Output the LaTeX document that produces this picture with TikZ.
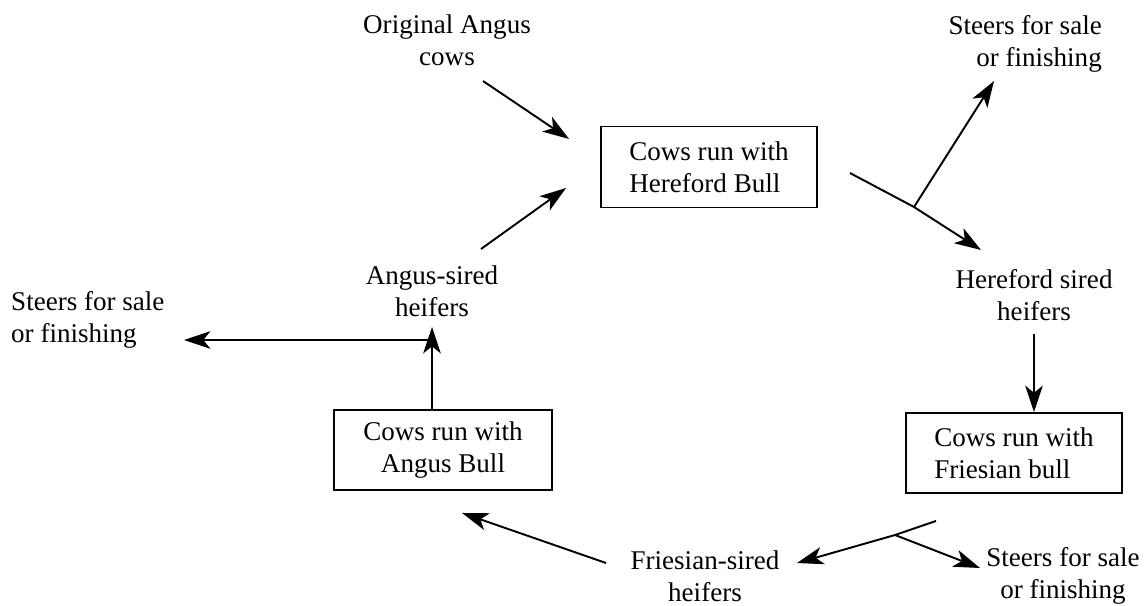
\documentclass[tikz,border=0pt]{standalone}
\usepackage{fontspec}
\setmainfont{Liberation Serif}
\usepackage{xcolor}
\usepackage{tikz}
\usetikzlibrary{
  positioning,
  calc,
  arrows.meta
}

\begin{document}
\begin{tikzpicture}[x=0.02cm,y=-0.02cm,
  font=\fontsize{15.4}{18}\selectfont,
  box/.style={draw,line width=1.1pt,minimum width=4.32cm,minimum height=1.62cm,inner sep=0pt},
  lbl/.style={align=center},
  arr/.style={->,>={Stealth[length=15pt,width=10pt,inset=4pt]},line width=1.1pt}]
  \useasboundingbox (0,0) rectangle (1148,605);

  % 箱
  \node[box,align=left] (hbox) at (709,167) {Cows run with\\Hereford Bull};
  \node[box,align=center,minimum width=4.36cm,minimum height=1.6cm] (abox) at (443,450) {Cows run with\\Angus Bull};
  \node[box,align=left,minimum height=1.6cm] (fbox) at (1014,453) {Cows run with\\Friesian bull};

  % ラベル
  \node[lbl] (orig) at (447,40) {Original Angus\\cows};
  \node[lbl] (aheif) at (432,291) {Angus-sired\\heifers};
  \node[lbl] (hheif) at (1034,295) {Hereford sired\\heifers};
  \node[lbl] (fheif) at (705,576) {Friesian-sired\\heifers};
  \node[align=right,anchor=east] (steersTR) at (1108,44) {Steers for sale\\or finishing};
  \node[lbl] (steersBR) at (1063,576) {Steers for sale\\or finishing};
  \node[align=left,anchor=west] (steersL) at (5,320) {Steers for sale\\or finishing};

  % 分岐点
  \coordinate (hsplit) at (914,207);
  \coordinate (fsplit) at (895,535);

  % 矢印
  \draw[arr] ([shift={(36,41)}]orig.center) -- ([shift={(-31,-28)}]hbox.west);
  \draw[arr] ([shift={(49,-42)}]aheif.center) -- ([shift={(-34,21)}]hbox.west);
  \draw[arr] ([shift={(32,6)}]hbox.east) -- (hsplit) -- ([shift={(-53,-45)}]hheif.center);
  \draw[arr] (hsplit) -- ([shift={(-114,37)}]steersTR.east);
  \draw[arr] ([shift={(0,39)}]hheif.center) -- (hheif.center |- fbox.north);
  \draw[arr] ([shift={(-78,27)}]fbox.south) -- (fsplit) -- ([shift={(92,-13)}]fheif.center);
  \draw[arr] (fsplit) -- ([shift={(-83,-8)}]steersBR.center);
  \draw[arr] ([shift={(-99,-13)}]fheif.center) -- ([shift={(19,22)}]abox.south);
  \draw[arr] (aheif.center |- abox.north) -- ([shift={(0,36)}]aheif.center);
  \draw[arr] ([shift={(0,49)}]aheif.center) -- ([shift={(179,20)}]steersL.west);
\end{tikzpicture}
\end{document}
